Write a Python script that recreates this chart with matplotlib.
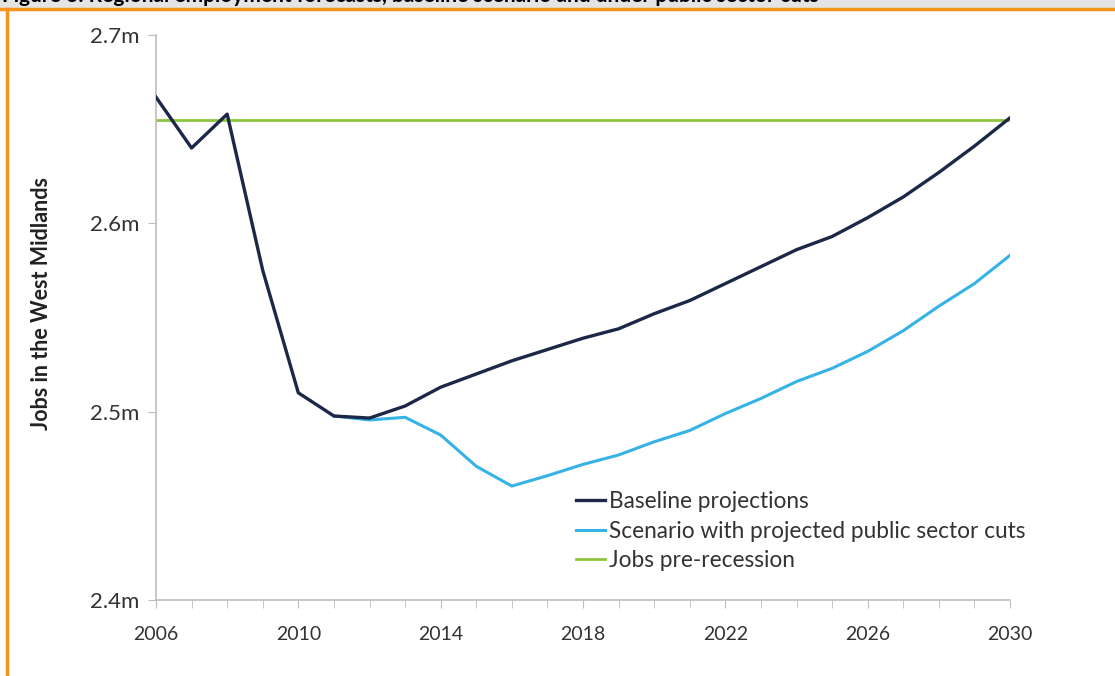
import matplotlib
matplotlib.use("Agg")
import matplotlib.pyplot as plt
from matplotlib.lines import Line2D
from matplotlib.patches import Rectangle

plt.rcParams['font.family'] = ['Lato', 'DejaVu Sans']

years = list(range(2006, 2031))
baseline = [2.667, 2.640, 2.658, 2.575, 2.510, 2.4977, 2.4966, 2.503, 2.513, 2.520,
            2.527, 2.533, 2.539, 2.544, 2.552, 2.559, 2.568, 2.577, 2.586, 2.593,
            2.603, 2.614, 2.627, 2.641, 2.656]
scenario_years = list(range(2011, 2031))
scenario = [2.4977, 2.4956, 2.497, 2.4876, 2.471, 2.4605, 2.466, 2.472, 2.477, 2.484,
            2.490, 2.499, 2.507, 2.516, 2.523, 2.532, 2.543, 2.556, 2.568, 2.583]
pre_recession = 2.655

y_ticks = [2.4, 2.5, 2.6, 2.7]
y_labels = ['2.4m', '2.5m', '2.6m', '2.7m']
x_ticks = [2006, 2010, 2014, 2018, 2022, 2026, 2030]
series_names = ['Baseline projections', 'Scenario with projected public sector cuts',
                'Jobs pre-recession']
title = 'Figure 3: Regional employment forecasts, baseline scenario and under public sector cuts'

navy = '#1c2847'
sky = '#35b3e6'
green = '#8cc63f'
orange = '#f7941d'

W, H = 1115, 676
fig = plt.figure(figsize=(W / 100, H / 100), dpi=100)
fig.patch.set_facecolor('white')

# Heading band (the heading runs off the top edge) and frame
fig.patches.append(Rectangle((0, 1 - 8 / H), 1, 8 / H, transform=fig.transFigure,
                             facecolor='#e4e4e4', edgecolor='none', zorder=0))
fig.add_artist(Line2D([0, 1], [1 - 9 / H, 1 - 9 / H], transform=fig.transFigure,
                      color=orange, lw=2.5))
fig.add_artist(Line2D([6.5 / W, 6.5 / W], [0, 1 - 9 / H], transform=fig.transFigure,
                      color=orange, lw=2.5))
fig.text(2 / W, 1 - 2 / H, title, fontsize=15, fontweight='bold', color='black',
         va='baseline', ha='left')

ax = fig.add_axes([156 / W, 1 - 600 / H, (1010 - 156) / W, (600 - 35) / H])
ax.plot(years, [pre_recession] * len(years), color=green, lw=2, label=series_names[2], zorder=2)
ax.plot(scenario_years, scenario, color=sky, lw=2.2, label=series_names[1], zorder=3)
ax.plot(years, baseline, color=navy, lw=2.4, label=series_names[0], zorder=4)

ax.set_xlim(2006, 2030)
ax.set_ylim(2.4, 2.7)
ax.set_yticks(y_ticks)
ax.set_yticklabels(y_labels)
ax.set_xticks(x_ticks)
ax.set_xticks(years, minor=True)
for s in ['top', 'right']:
    ax.spines[s].set_visible(False)
for s in ['left', 'bottom']:
    ax.spines[s].set_color('#bdbdbd')
    ax.spines[s].set_linewidth(1.2)
ax.tick_params(axis='y', length=6, color='#bdbdbd', labelsize=16, labelcolor='#333333', pad=6)
ax.tick_params(axis='x', which='both', length=6, color='#bdbdbd', labelsize=14,
               labelcolor='#333333', pad=13)

ax.set_ylabel('Jobs in the West Midlands', fontsize=15.5, fontweight='bold', color='#222222')
ax.yaxis.set_label_coords((52 - 156) / (1010 - 156), (600 - 303) / (600 - 35))

handles = [Line2D([], [], color=navy, lw=2.4),
           Line2D([], [], color=sky, lw=2.2),
           Line2D([], [], color=green, lw=2)]
leg = ax.legend(handles, series_names, loc='upper left',
                bbox_to_anchor=((576 - 156) / (1010 - 156), (600 - 491) / (600 - 35)),
                frameon=False, fontsize=16.3, handlelength=1.3, handletextpad=0.15,
                labelspacing=0.38, borderaxespad=0, borderpad=0)
for t in leg.get_texts():
    t.set_color('#333333')

fig.savefig('out.png', dpi=100)
